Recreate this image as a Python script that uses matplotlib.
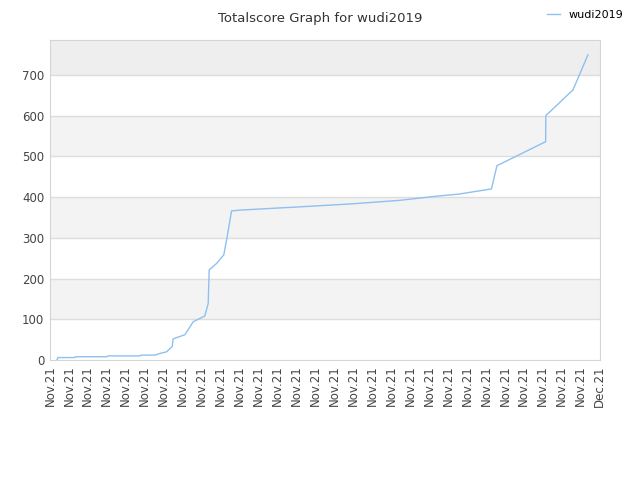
import numpy as np
import matplotlib
matplotlib.use('Agg')
import matplotlib.pyplot as plt
import matplotlib.dates as mdates
from datetime import datetime, timedelta

# days since Nov 2 2021 and score
days = [0.37, 0.42, 1.32, 1.35, 3.0, 3.05, 4.75, 4.8, 5.54, 5.8, 6.15, 6.45, 6.5,
        7.12, 7.56, 8.17, 8.35, 8.4, 8.79, 9.17, 9.32, 9.58, 10.02, 13.18, 15.82,
        18.45, 20.56, 21.53, 23.29, 23.58, 26.15, 26.16, 27.59, 28.38]
score = [0, 6, 6, 8, 8, 10, 10, 12, 12, 16, 20, 33, 52,
         62, 94, 108, 139, 221, 237, 258, 295, 366, 368, 376, 383,
         392, 403, 407, 420, 477, 536, 600, 663, 749]
player = 'wudi2019'

start = datetime(2021, 11, 2)
dates = [start + timedelta(days=d) for d in days]
ticks = [start + timedelta(days=i) for i in range(30)]

fig = plt.figure(figsize=(6.4, 4.8), dpi=100)
ax = fig.add_axes([0.078, 0.25, 0.859, 0.667])

ymax = 786
bands = [(100, 200, '#f3f3f3'), (300, 400, '#f3f3f3'), (500, 600, '#f3f3f3'), (700, ymax, '#eeeeee')]
for lo, hi, c in bands:
    ax.axhspan(lo, hi, color=c, zorder=0, lw=0)
for y in range(100, 800, 100):
    ax.axhline(y, color='#dddddd', lw=1, zorder=1)

ax.plot(dates, score, color='#8ec0f0', lw=1, label=player, zorder=3)

ax.set_ylim(0, ymax)
ax.set_xlim(ticks[0], ticks[-1])
ax.set_yticks(range(0, 800, 100))
ax.set_xticks(ticks)
ax.xaxis.set_major_formatter(mdates.DateFormatter('%b.%y'))
plt.setp(ax.get_xticklabels(), rotation=90)
ax.tick_params(length=0, labelsize=8.5, colors='#444444', pad=4)
for s in ax.spines.values():
    s.set_color('#d5d5d5')

fig.text(0.5, 0.975, 'Totalscore Graph for ' + player, ha='center', va='top',
         fontsize=9.5, color='#333333')
fig.legend(loc='upper right', bbox_to_anchor=(0.99, 1.0), frameon=False,
           fontsize=8, handlelength=1.2)

plt.savefig('out.png', dpi=100)
